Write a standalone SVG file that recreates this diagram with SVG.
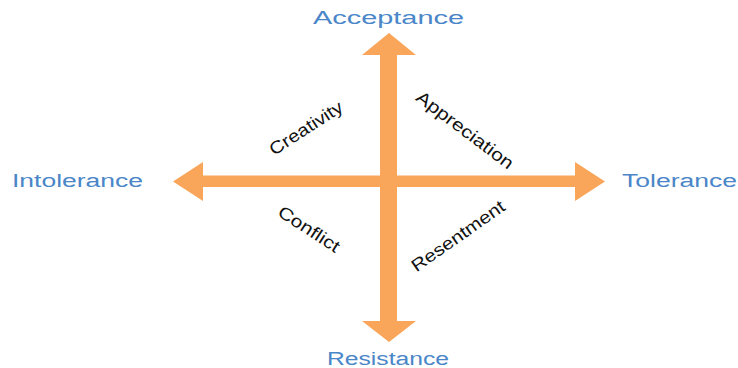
<svg xmlns="http://www.w3.org/2000/svg" width="738" height="368" viewBox="0 0 738 368">
  <style>
    .axis { fill: #F9A65A; }
    .pole { font-family: "Liberation Sans", Arial, sans-serif; font-size: 18px; fill: #4A86C8; }
    .quad { font-family: "Liberation Sans", Arial, sans-serif; font-size: 17.5px; fill: #111111; text-anchor: middle; }
  </style>
  <rect width="738" height="368" fill="#ffffff"/>

  <!-- two double-headed axes -->
  <g id="connectors">
    <polygon id="axis-vertical" class="axis"
      points="389,33 416,55 397,55 397,321 416,321 389,342 362,321 380,321 380,55 362,55"/>
    <polygon id="axis-horizontal" class="axis"
      points="173,181.5 203,162 203,175.5 575,175.5 575,162 605,181.5 575,201 575,187 203,187 203,201"/>
  </g>

  <!-- axis ends -->
  <g id="node-acceptance"><text class="pole" x="313" y="24" textLength="151" lengthAdjust="spacingAndGlyphs">Acceptance</text></g>
  <g id="node-resistance"><text class="pole" x="327" y="365" textLength="122" lengthAdjust="spacingAndGlyphs">Resistance</text></g>
  <g id="node-intolerance"><text class="pole" x="12" y="187" textLength="131" lengthAdjust="spacingAndGlyphs">Intolerance</text></g>
  <g id="node-tolerance"><text class="pole" x="622" y="187" textLength="115" lengthAdjust="spacingAndGlyphs">Tolerance</text></g>

  <!-- quadrant labels -->
  <g id="node-creativity" transform="translate(306,128) rotate(-33)"><text class="quad" x="0" y="6" textLength="84" lengthAdjust="spacingAndGlyphs">Creativity</text></g>
  <g id="node-appreciation" transform="translate(465,130) rotate(37)"><text class="quad" x="0" y="6" textLength="117" lengthAdjust="spacingAndGlyphs">Appreciation</text></g>
  <g id="node-conflict" transform="translate(309,229) rotate(33)"><text class="quad" x="0" y="6" textLength="70" lengthAdjust="spacingAndGlyphs">Conflict</text></g>
  <g id="node-resentment" transform="translate(458,236) rotate(-35)"><text class="quad" x="0" y="6" textLength="110" lengthAdjust="spacingAndGlyphs">Resentment</text></g>
</svg>
